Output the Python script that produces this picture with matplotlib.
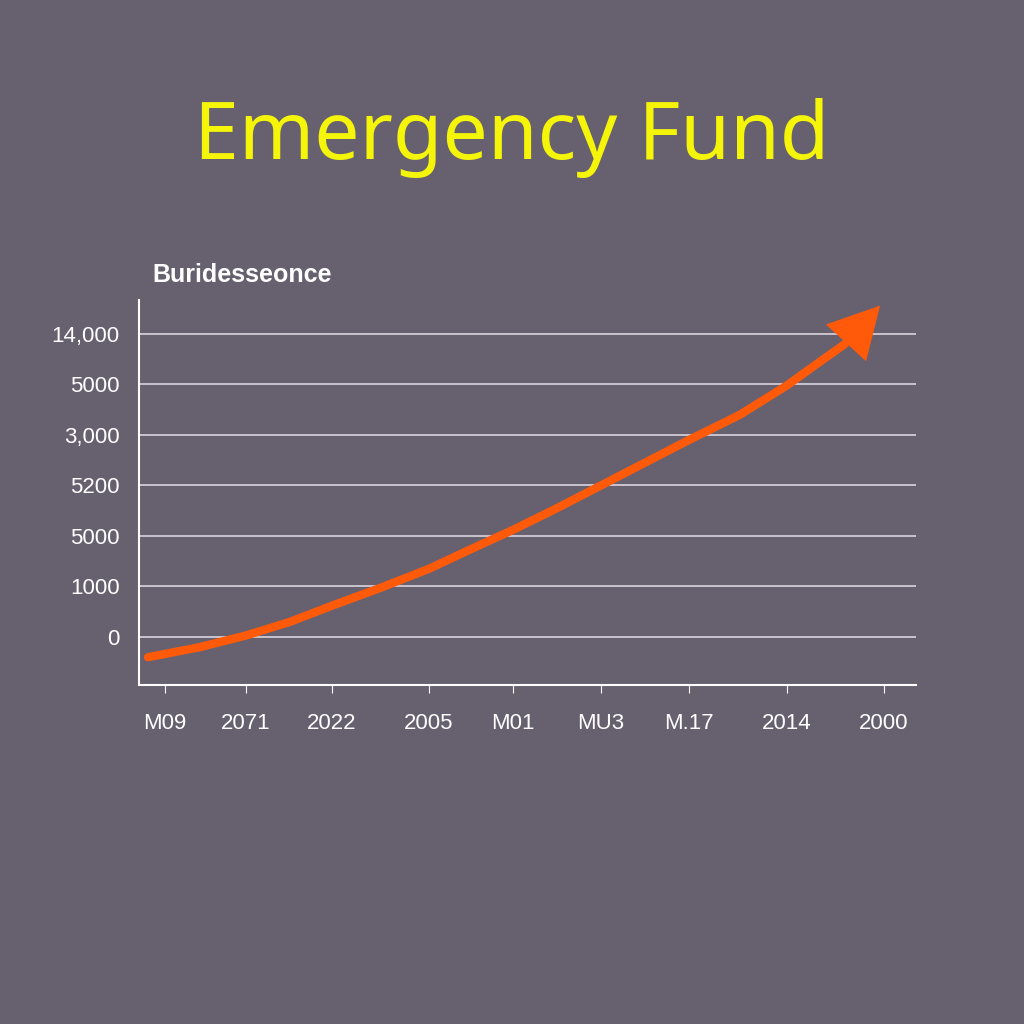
import matplotlib.pyplot as plt

BG = "#67606f"
ORANGE = "#ff5a0a"

x_ticks = [165, 246, 332, 429, 513, 601, 689, 787, 884]
x_labels = ["M09", "2071", "2022", "2005", "M01", "MU3", "M.17", "2014", "2000"]
y_ticks = [0, 1, 2, 3, 4, 5, 6]
y_labels = ["0", "1000", "5000", "5200", "3,000", "5000", "14,000"]

line_x = [148, 200, 246, 290, 332, 380, 429, 470, 513, 557, 601, 645, 689, 740, 787, 820, 845]
line_y = [-0.40, -0.2, 0.03, 0.3, 0.62, 0.97, 1.35, 1.73, 2.12, 2.55, 3.0, 3.45, 3.9, 4.4, 4.98, 5.45, 5.8]
arrow_tip = (882, 6.6)

plt.rcParams["font.family"] = "Liberation Sans"

fig = plt.figure(figsize=(10.24, 10.24), dpi=100, facecolor=BG)
fig.text(0.5, 0.865, "Emergency Fund", color="#f5f50a", fontsize=58,
         fontweight="bold", ha="center", va="center", family="Noto Sans")
fig.text(0.149, 0.731, "Buridesseonce", color="white", fontsize=18,
         fontweight="bold", ha="left", va="center")

ax = fig.add_axes([139 / 1024, 1 - 685 / 1024, (916 - 139) / 1024, (685 - 300) / 1024])
ax.set_facecolor(BG)
ax.set_xlim(139, 916)
ax.set_ylim(-0.95, 6.67)

for y in y_ticks:
    ax.axhline(y, color="#d8d4dc", linewidth=1.2, zorder=1)

ax.plot(line_x, line_y, color=ORANGE, linewidth=6, solid_capstyle="round",
        solid_joinstyle="round", zorder=3)
ax.annotate("", xy=arrow_tip, xytext=(line_x[-1], line_y[-1]),
            arrowprops=dict(arrowstyle="simple,head_length=1.3,head_width=1.4,tail_width=0.35",
                            color=ORANGE, lw=0, mutation_scale=28), zorder=4)

ax.set_xticks(x_ticks)
ax.set_xticklabels(x_labels)
ax.set_yticks(y_ticks)
ax.set_yticklabels(y_labels)
ax.tick_params(axis="x", colors="white", labelsize=16, length=6, pad=14)
ax.tick_params(axis="y", colors="white", labelsize=16, length=0, pad=14)
for s in ["top", "right"]:
    ax.spines[s].set_visible(False)
for s in ["left", "bottom"]:
    ax.spines[s].set_color("white")
    ax.spines[s].set_linewidth(1.5)

fig.savefig("out.png", dpi=100, facecolor=BG)
